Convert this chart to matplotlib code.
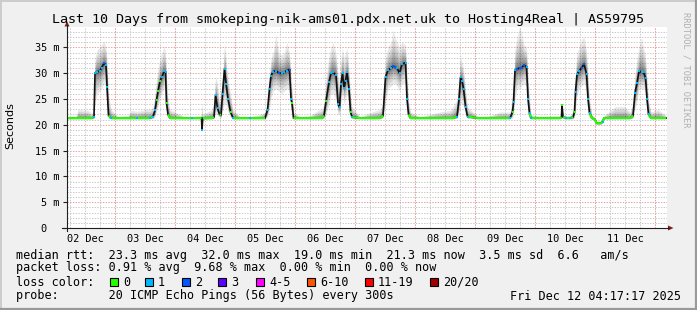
import matplotlib
matplotlib.use("Agg")
import matplotlib.pyplot as plt
import numpy as np
from matplotlib.lines import Line2D
from matplotlib.patches import Rectangle, Polygon

W, H = 697, 310

# hours since the start of the 10-day window (Dec 2 ~04:40)
t_hours = [
    0.0, 3.6, 4.4, 8.4, 10.0, 10.8, 11.2, 12.0, 13.0, 13.8, 14.8, 15.6, 16.0, 16.6, 17.6,
    20.4, 24.4, 25.6, 28.0, 31.2, 33.2, 34.4, 35.2, 35.8, 36.4, 37.2, 38.0, 38.8, 39.4,
    39.8, 40.4, 41.2, 43.2, 47.2, 50.0, 53.2, 53.8, 54.0, 54.3, 58.0, 58.8, 59.4, 60.2,
    61.0, 61.6, 62.2, 63.0, 63.6, 64.4, 65.4, 66.4, 69.2, 73.2, 77.2, 79.2, 80.2, 81.0,
    81.6, 82.4, 83.6, 84.8, 85.8, 86.8, 88.0, 89.0, 89.6, 90.0, 90.6, 93.2, 97.2, 100.4,
    102.0, 102.8, 103.6, 104.8, 105.6, 106.4, 107.6, 108.4, 109.0, 109.6, 110.2, 110.8,
    111.4, 112.0, 112.8, 113.4, 114.0, 117.2, 122.0, 125.2, 126.4, 127.4, 128.4, 129.6,
    130.4, 131.2, 132.0, 133.0, 134.0, 135.4, 136.0, 136.6, 137.4, 141.2, 149.2, 153.2,
    154.4, 156.0, 156.8, 157.4, 158.0, 158.6, 159.4, 160.2, 164.4, 169.2, 173.2, 177.2,
    178.2, 178.6, 179.2, 180.0, 181.0, 181.8, 182.8, 183.8, 184.4, 185.0, 185.6, 189.2,
    195.2, 197.2, 197.8, 198.0, 198.4, 199.6, 201.2, 202.4, 203.0, 203.4, 204.0, 204.8,
    205.8, 206.8, 207.8, 208.4, 209.0, 210.0, 211.2, 211.8, 213.6, 214.2, 214.8, 219.2,
    223.2, 225.2, 226.4, 227.2, 228.0, 228.8, 229.8, 230.6, 231.4, 232.0, 232.6, 233.6,
    236.4, 239.6,
]

# median rtt in ms
median_ms = [
    21.3, 21.3, 21.3, 21.3, 21.3, 21.6, 30.0, 30.3, 30.4, 31.0, 32.0, 31.5, 27.4, 21.8, 21.3,
    21.3, 21.3, 21.3, 21.3, 21.3, 21.3, 21.6, 22.8, 24.8, 26.5, 28.5, 29.3, 30.4, 30.2,
    24.2, 22.0, 21.3, 21.3, 21.3, 21.3, 21.3, 21.3, 19.0, 21.3, 21.3, 21.5, 25.8, 23.2,
    22.0, 21.9, 26.0, 30.8, 28.0, 25.0, 22.5, 21.3, 21.3, 21.3, 21.3, 21.3, 22.9, 27.0,
    29.5, 30.3, 30.5, 30.0, 30.0, 30.2, 30.5, 30.7, 25.0, 24.2, 21.3, 21.3, 21.3, 21.3,
    21.3, 21.8, 24.6, 28.3, 30.0, 30.2, 29.6, 24.0, 23.4, 28.0, 30.0, 27.1,
    28.5, 30.2, 26.9, 22.5, 21.5, 21.3, 21.3, 21.3, 21.8, 29.3, 30.6, 31.0,
    31.4, 31.2, 31.0, 30.0, 31.8, 32.0, 25.0, 22.0, 21.3, 21.3, 21.3, 21.3,
    21.3, 21.6, 25.0, 29.2, 28.5, 27.0, 23.5, 21.6, 21.3, 21.3, 21.3, 21.3,
    22.5, 24.4, 30.6, 30.8, 31.0, 31.0, 31.6, 31.2, 25.0, 22.2, 21.3, 21.3,
    21.3, 21.3, 21.5, 23.8, 21.5, 21.3, 21.3, 21.5, 22.5, 26.4, 29.8, 30.4,
    31.0, 31.8, 29.8, 25.0, 22.3, 21.3, 21.0, 20.3, 20.3, 20.6, 21.3, 21.3,
    21.3, 21.3, 21.8, 26.2, 28.1, 30.4, 30.2, 30.2, 29.1, 25.0, 22.0, 21.3,
    21.3, 21.3,
]

# upper / lower edge of the smoke (ping spread) in ms
smoke_hi = [
    21.6, 21.6, 23.0, 22.8, 22.2, 23.0, 33.0, 34.5, 35.0, 35.5, 36.2, 35.0, 33.0, 26.0, 23.0,
    21.6, 21.8, 22.8, 22.6, 23.0, 23.0, 23.5, 26.0, 29.0, 31.0, 33.0, 34.0, 35.3, 34.0,
    30.0, 25.0, 23.0, 22.5, 21.6, 21.6, 21.8, 22.0, 25.0, 22.0, 23.0, 24.0, 29.5, 28.0,
    24.5, 26.0, 29.5, 36.0, 33.0, 29.0, 26.0, 23.0, 21.6, 21.6, 22.0, 22.5, 24.0, 30.0,
    33.0, 34.0, 37.5, 34.0, 33.5, 34.0, 36.0, 34.0, 30.0, 27.0, 22.5, 21.6, 21.8, 22.8,
    23.2, 24.0, 29.0, 33.5, 35.0, 36.0, 34.0, 30.0, 28.0, 33.0, 35.0, 33.0,
    34.0, 35.0, 31.0, 26.0, 23.5, 21.6, 22.5, 23.0, 24.0, 33.0, 35.0, 36.0,
    38.5, 37.0, 36.0, 35.0, 36.0, 35.5, 30.0, 25.0, 22.5, 21.6, 22.5, 22.8,
    23.5, 25.0, 29.0, 33.5, 32.0, 31.0, 27.0, 23.5, 21.6, 21.8, 22.5, 22.5,
    25.0, 28.0, 35.0, 37.0, 39.0, 38.0, 35.5, 35.0, 30.0, 25.0, 22.0, 21.6,
    21.8, 21.8, 22.0, 24.5, 22.0, 21.8, 21.8, 22.5, 25.0, 31.0, 34.0, 35.0,
    36.5, 37.0, 34.5, 30.0, 25.0, 22.0, 21.5, 20.8, 20.8, 21.2, 21.8, 23.5,
    23.5, 22.5, 24.0, 30.0, 33.0, 35.0, 37.0, 35.0, 33.5, 29.0, 25.0, 22.5,
    23.0, 21.8,
]

smoke_lo = [
    21.1, 21.1, 21.1, 21.1, 21.1, 21.2, 24.0, 26.0, 26.5, 27.0, 28.0, 27.0, 23.0, 21.2, 21.1,
    21.1, 21.1, 21.1, 21.1, 21.1, 21.1, 21.2, 21.5, 22.5, 23.5, 25.0, 26.0, 27.0, 26.0,
    22.0, 21.3, 21.1, 21.1, 21.1, 21.1, 21.1, 21.0, 18.8, 21.0, 21.1, 21.2, 22.0, 22.0,
    21.3, 21.3, 22.5, 24.0, 24.0, 22.5, 21.5, 21.1, 21.1, 21.1, 21.1, 21.1, 21.5, 23.0,
    25.0, 26.5, 27.0, 26.5, 26.0, 26.5, 27.0, 27.0, 22.5, 21.5, 21.1, 21.1, 21.1, 21.1,
    21.1, 21.2, 22.0, 24.0, 26.0, 26.0, 25.0, 22.0, 22.0, 24.0, 26.0, 24.0,
    25.0, 26.0, 23.0, 21.3, 21.2, 21.1, 21.1, 21.1, 21.3, 24.0, 27.0, 27.5,
    28.0, 28.0, 27.5, 26.5, 28.0, 28.0, 22.5, 21.3, 21.1, 21.1, 21.1, 21.1,
    21.1, 21.2, 22.0, 24.0, 24.0, 23.5, 22.0, 21.2, 21.1, 21.1, 21.1, 21.1,
    21.3, 22.0, 25.0, 27.0, 27.0, 27.5, 28.0, 27.5, 22.5, 21.3, 21.1, 21.1,
    21.1, 21.1, 21.2, 21.3, 21.2, 21.1, 21.1, 21.1, 21.3, 23.0, 25.5, 27.0,
    27.5, 28.0, 26.5, 22.5, 21.3, 21.1, 20.8, 20.1, 20.1, 20.4, 21.1, 21.1,
    21.1, 21.1, 21.2, 23.0, 24.5, 27.0, 27.0, 27.0, 26.0, 22.5, 21.3, 21.1,
    21.1, 21.1,
]

# lost pings (of 20) per point
loss_cnt = [
    0, 0, 0, 0, 0, 1, 1, 1, 1, 1, 2, 1, 1, 0, 1,
    0, 0, 0, 1, 0, 1, 1, 1, 0, 0, 0, 1, 1, 1,
    0, 0, 0, 0, 0, 1, 0, 0, 1, 0, 0, 0, 1, 1,
    0, 0, 1, 1, 1, 1, 0, 1, 0, 1, 0, 0, 1, 1,
    1, 1, 1, 2, 1, 1, 1, 2, 1, 0, 0, 0, 0, 0,
    0, 0, 0, 1, 1, 1, 1, 1, 1, 1, 1, 1,
    1, 1, 1, 0, 1, 0, 0, 0, 0, 1, 1, 1,
    2, 2, 1, 1, 1, 1, 1, 0, 0, 0, 0, 0,
    0, 1, 1, 1, 1, 1, 1, 1, 0, 0, 0, 1,
    0, 1, 1, 2, 2, 2, 2, 1, 1, 1, 1, 0,
    0, 0, 0, 0, 0, 1, 1, 0, 0, 1, 1, 1,
    2, 2, 1, 1, 1, 0, 0, 0, 0, 1, 0, 0,
    0, 0, 0, 1, 1, 1, 1, 1, 1, 1, 1, 0,
    0, 0,
]

day_labels = ["02 Dec", "03 Dec", "04 Dec", "05 Dec", "06 Dec",
              "07 Dec", "08 Dec", "09 Dec", "10 Dec", "11 Dec"]
first_midnight = 19.3

y_ticks = [0, 5, 10, 15, 20, 25, 30, 35]
y_tick_labels = ["0  ", "5 m", "10 m", "15 m", "20 m", "25 m", "30 m", "35 m"]

loss_names = ["0", "1", "2", "3", "4-5", "6-10", "11-19", "20/20"]
loss_colors = ["#26ff00", "#00b8ff", "#0059ff", "#5e00ff", "#ff00ff",
               "#ff5500", "#ff0000", "#a10000"]

title = "Last 10 Days from smokeping-nik-ams01.pdx.net.uk to Hosting4Real | AS59795"
legend_rtt = "median rtt:  23.3 ms avg  32.0 ms max  19.0 ms min  21.3 ms now  3.5 ms sd  6.6   am/s"
legend_loss = "packet loss: 0.91 % avg  9.68 % max  0.00 % min  0.00 % now"
legend_probe = "probe:       20 ICMP Echo Pings (56 Bytes) every 300s"
stamp = "Fri Dec 12 04:17:17 2025"

MONO = "DejaVu Sans Mono"


def fx(px):
    return px / W


def fy(py):
    return 1 - py / H


fig = plt.figure(figsize=(W / 100, H / 100), dpi=100, facecolor="#f0f0f0")
# plot canvas: x 67..667 px, y 27..228 px
ax = fig.add_axes([fx(67), fy(228), 600 / W, 201 / H])
ax.set_facecolor("white")
ax.set_xlim(0, 240)
ax.set_ylim(0, 201 / 5.16)
for s in ax.spines.values():
    s.set_visible(False)

t = np.array(t_hours)
med = np.array(median_ms)
hi = np.array(smoke_hi)
lo = np.array(smoke_lo)
loss = np.array(loss_cnt)

# grid
dot = (0, (1.4, 1.4))
for h in np.arange(first_midnight - 18, 241, 6):
    ax.axvline(h, color="#c8c8c8", lw=0.7, ls=dot, zorder=0)
for y in range(1, 39):
    if y % 5:
        ax.axhline(y, color="#c8c8c8", lw=0.7, ls=dot, zorder=0)
for h in np.arange(first_midnight, 241, 24):
    ax.axvline(h, color="#eaa0a0", lw=0.7, ls=dot, zorder=1)
for y in y_ticks[1:]:
    ax.axhline(y, color="#eaa0a0", lw=0.7, ls=dot, zorder=1)

# smoke: stacked translucent bands, darker close to the median
for f in [1.0, 0.75, 0.55, 0.4, 0.28, 0.18, 0.1, 0.05]:
    ax.fill_between(t, med - (med - lo) * f, med + (hi - med) * f,
                    color="black", alpha=0.09, lw=0, zorder=2)

# median line
ax.plot(t, med, color="#111111", lw=1.2, zorder=3)
base = np.where((med <= 22.4) & (med >= 20.0), med, np.nan)
ax.plot(t, base, color=loss_colors[0], lw=1.5, zorder=4, solid_capstyle="butt")
show = (loss > 0) | (med > 22.4)
for i in np.where(show)[0]:
    ax.plot(t[i], med[i], marker="s", ms=2.1, mew=0,
            color=loss_colors[loss[i]], zorder=5)

# ticks
ax.set_yticks(y_ticks)
ax.set_yticklabels(y_tick_labels, family=MONO, fontsize=7.4)
ax.tick_params(axis="y", length=3, width=0.8, color="#1f1f1f", pad=2.5)
ax.set_xticks([first_midnight - 12 + 24 * k for k in range(len(day_labels))])
ax.set_xticklabels(day_labels, family=MONO, fontsize=7.4)
ax.tick_params(axis="x", length=0, pad=4)

# axes with arrows
fig.add_artist(Line2D([fx(67), fx(67)], [fy(231), fy(25)], color="#1f1f1f", lw=0.8))
fig.add_artist(Line2D([fx(62), fx(669)], [fy(228), fy(228)], color="#1f1f1f", lw=0.8))
fig.add_artist(Polygon([(fx(64.5), fy(26.5)), (fx(69.5), fy(26.5)), (fx(67), fy(21))],
                       closed=True, transform=fig.transFigure, color="#7f1f1f", lw=0))
fig.add_artist(Polygon([(fx(668), fy(225.5)), (fx(668), fy(230.5)), (fx(673.5), fy(228))],
                       closed=True, transform=fig.transFigure, color="#7f1f1f", lw=0))

# texts
fig.text(0.5, fy(19), title, ha="center", va="center", family=MONO, fontsize=9.6)
fig.text(fx(10), fy(126), "Seconds", rotation=90, ha="center", va="center",
         family="DejaVu Sans", fontsize=8)
fig.text(fx(686), fy(70), "RRDTOOL / TOBI OETIKER", rotation=270, ha="center",
         va="center", family=MONO, fontsize=6.3, color="#b0b0b0")

fig.text(fx(16), fy(255), legend_rtt, va="center", family=MONO, fontsize=8.5)
fig.text(fx(16), fy(268), legend_loss, va="center", family=MONO, fontsize=8.5)
fig.text(fx(16), fy(282), "loss color:", va="center", family=MONO, fontsize=8.5)
box_x = [110, 145, 182, 218, 256, 307, 365, 430]
for bx, name, col in zip(box_x, loss_names, loss_colors):
    fig.add_artist(Rectangle((fx(bx), fy(286)), 8 / W, 8 / H, transform=fig.transFigure,
                             facecolor=col, edgecolor="black", lw=0.8))
    fig.text(fx(bx + 13), fy(282), name, va="center", family=MONO, fontsize=8.5)
fig.text(fx(16), fy(296), legend_probe, va="center", family=MONO, fontsize=8.5)
fig.text(fx(681), fy(296), stamp, ha="right", va="center", family=MONO, fontsize=8.5)

# image frame
fig.add_artist(Line2D([0, 1], [fy(0.5), fy(0.5)], color="#cbcbcb", lw=1.4))
fig.add_artist(Line2D([fx(0.5), fx(0.5)], [0, 1], color="#cbcbcb", lw=1.4))
fig.add_artist(Line2D([0, 1], [fy(309), fy(309)], color="#999999", lw=1.6))
fig.add_artist(Line2D([fx(696), fx(696)], [0, 1], color="#999999", lw=1.6))

fig.savefig("out.png", dpi=100, facecolor=fig.get_facecolor())
